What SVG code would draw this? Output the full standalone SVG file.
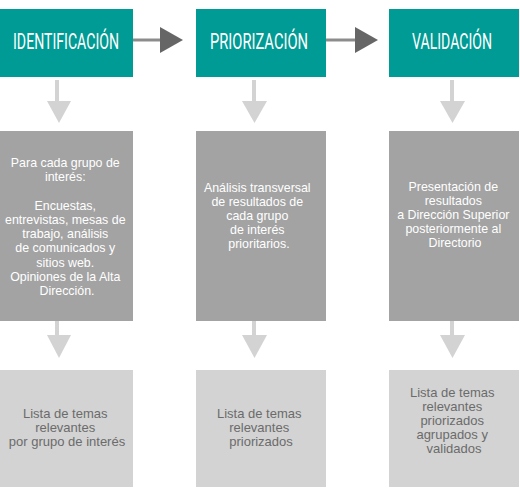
<svg xmlns="http://www.w3.org/2000/svg" width="520" height="500" viewBox="0 0 520 500">
<style>
.top{fill:#009b94}
.mid{fill:#a3a3a3}
.bot{fill:#d3d3d3}
.title{font-family:Roboto,"Liberation Sans",sans-serif;font-size:22px;fill:#fff;text-anchor:middle}
.mt{font-family:"Liberation Sans",Arial,sans-serif;font-size:12.4px;fill:#fff;text-anchor:middle}
.bt{font-family:"Liberation Sans",Arial,sans-serif;font-size:13px;fill:#6b6b6b;text-anchor:middle}
.hs{stroke:#8c8c8c;stroke-width:3}
.hh{fill:#666}
.ds{stroke:#d3d3d3;stroke-width:4}
.dh{fill:#d3d3d3}
</style>
<rect width="520" height="500" fill="#fff"/>
<g id="connectors">
<line class="hs" x1="133" y1="40" x2="161" y2="40"/>
<polygon class="hh" points="160,27 183,40 160,53"/>
<line class="hs" x1="326" y1="40" x2="356" y2="40"/>
<polygon class="hh" points="355,27 378,40 355,53"/>
<line class="ds" x1="57" y1="80" x2="57" y2="102"/>
<polygon class="dh" points="47,101 71,101 59,123"/>
<line class="ds" x1="254" y1="80" x2="254" y2="102"/>
<polygon class="dh" points="242,101 267,101 254.5,123"/>
<line class="ds" x1="452" y1="80" x2="452" y2="102"/>
<polygon class="dh" points="440,101 465,101 452.5,123"/>
<line class="ds" x1="57" y1="320" x2="57" y2="336"/>
<polygon class="dh" points="47,335 71,335 59,358"/>
<line class="ds" x1="254" y1="320" x2="254" y2="336"/>
<polygon class="dh" points="242,335 267,335 254.5,358"/>
<line class="ds" x1="452" y1="320" x2="452" y2="336"/>
<polygon class="dh" points="440,335 465,335 452.5,358"/>
</g>
<g id="identificacion">
<rect class="top" x="0" y="9" width="133" height="68"/>
<g transform="translate(66,49) scale(0.65,1)"><text class="title" x="0" y="0" textLength="163" lengthAdjust="spacingAndGlyphs">IDENTIFICACIÓN</text></g>
</g>
<g id="priorizacion">
<rect class="top" x="196" y="9" width="130" height="68"/>
<g transform="translate(259,49) scale(0.65,1)"><text class="title" x="0" y="0" textLength="151" lengthAdjust="spacingAndGlyphs">PRIORIZACIÓN</text></g>
</g>
<g id="validacion">
<rect class="top" x="389" y="9" width="130" height="68"/>
<g transform="translate(452,49) scale(0.65,1)"><text class="title" x="0" y="0" textLength="123" lengthAdjust="spacingAndGlyphs">VALIDACIÓN</text></g>
</g>
<g id="mid1">
<rect class="mid" x="0" y="131" width="133" height="190"/>
<text class="mt">
<tspan x="67" y="166.7">Para cada grupo de</tspan>
<tspan x="67" y="181">interés:</tspan>
<tspan x="67" y="209.5">Encuestas,</tspan>
<tspan x="67" y="223.7">entrevistas, mesas de</tspan>
<tspan x="67" y="238">trabajo, análisis</tspan>
<tspan x="67" y="252.2">de comunicados y</tspan>
<tspan x="67" y="266.5">sitios web.</tspan>
<tspan x="67" y="280.7">Opiniones de la Alta</tspan>
<tspan x="67" y="295">Dirección.</tspan>
</text>
</g>
<g id="mid2">
<rect class="mid" x="196" y="131" width="130" height="190"/>
<text class="mt">
<tspan x="259" y="191.5">Análisis transversal</tspan>
<tspan x="259" y="205.5">de resultados de</tspan>
<tspan x="259" y="219.5">cada grupo</tspan>
<tspan x="259" y="233.5">de interés</tspan>
<tspan x="259" y="247.5">prioritarios.</tspan>
</text>
</g>
<g id="mid3">
<rect class="mid" x="389" y="131" width="130" height="190"/>
<text class="mt">
<tspan x="455" y="191">Presentación de</tspan>
<tspan x="455" y="205">resultados</tspan>
<tspan x="455" y="219">a Dirección Superior</tspan>
<tspan x="455" y="233">posteriormente al</tspan>
<tspan x="455" y="247">Directorio</tspan>
</text>
</g>
<g id="bot1">
<rect class="bot" x="0" y="370" width="133" height="117"/>
<text class="bt">
<tspan x="67" y="418">Lista de temas</tspan>
<tspan x="67" y="432">relevantes</tspan>
<tspan x="67" y="446">por grupo de interés</tspan>
</text>
</g>
<g id="bot2">
<rect class="bot" x="196" y="370" width="130" height="117"/>
<text class="bt">
<tspan x="261" y="418">Lista de temas</tspan>
<tspan x="261" y="432">relevantes</tspan>
<tspan x="261" y="446">priorizados</tspan>
</text>
</g>
<g id="bot3">
<rect class="bot" x="389" y="370" width="130" height="117"/>
<text class="bt">
<tspan x="454" y="397">Lista de temas</tspan>
<tspan x="454" y="411">relevantes</tspan>
<tspan x="454" y="425">priorizados</tspan>
<tspan x="454" y="439">agrupados y</tspan>
<tspan x="454" y="453">validados</tspan>
</text>
</g>
</svg>
